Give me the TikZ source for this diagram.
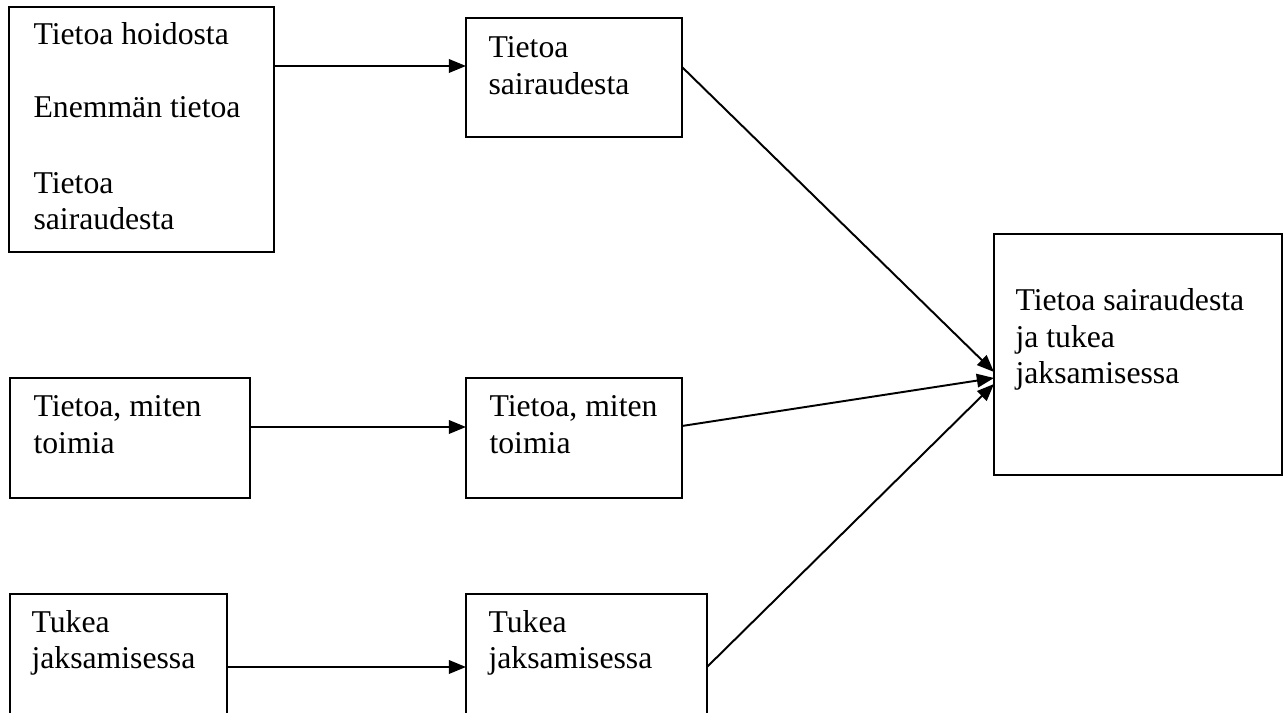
\documentclass[tikz,border=0pt]{standalone}
\usepackage{fontspec}
\setmainfont{Liberation Serif}
\usetikzlibrary{arrows.meta}
\newcommand{\pxl}{0.3846pt}
\tikzset{
  box/.style={draw, line width=0.75pt, anchor=north west, inner sep=0pt, outer sep=0pt},
  lbl/.style={anchor=base west, inner sep=0pt, font=\fontsize{12.2pt}{14pt}\selectfont},
  arr/.style={line width=0.75pt, -{Triangle[length=6.6pt,width=5.2pt]}}
}
\begin{document}
\begin{tikzpicture}[x=0.3846pt, y=-0.3846pt]
\clip (0,0) rectangle (1283,713);
\useasboundingbox (0,0) rectangle (1283,713);
% boxes
\node[box, minimum width=265*\pxl, minimum height=245*\pxl] (A) at (9,7) {};
\node[box, minimum width=216*\pxl, minimum height=119*\pxl] (B) at (466,18) {};
\node[box, minimum width=288*\pxl, minimum height=241*\pxl] (C) at (994,234) {};
\node[box, minimum width=240*\pxl, minimum height=120*\pxl] (D) at (10,378) {};
\node[box, minimum width=216*\pxl, minimum height=120*\pxl] (E) at (466,378) {};
\node[box, minimum width=217*\pxl, minimum height=200*\pxl] (F) at (10,594) {};
\node[box, minimum width=241*\pxl, minimum height=200*\pxl] (G) at (466,594) {};
% texts
\node[lbl] (a1) at (33,45) {Tietoa hoidosta};
\node[lbl] (a2) at (33,118) {Enemmän tietoa};
\node[lbl] (a3) at (33,194) {Tietoa};
\node[lbl] (a4) at (33,230) {sairaudesta};
\node[lbl] (b1) at (488,58) {Tietoa};
\node[lbl] (b2) at (488,95) {sairaudesta};
\node[lbl] (c1) at (1015,311) {Tietoa sairaudesta};
\node[lbl] (c2) at (1015,348) {ja tukea};
\node[lbl] (c3) at (1015,384) {jaksamisessa};
\node[lbl] (d1) at (33,417) {Tietoa, miten};
\node[lbl] (d2) at (33,454) {toimia};
\node[lbl] (e1) at (489,417) {Tietoa, miten};
\node[lbl] (e2) at (489,454) {toimia};
\node[lbl] (f1) at (31,633) {Tukea};
\node[lbl] (f2) at (31,669) {jaksamisessa};
\node[lbl] (g1) at (488,633) {Tukea};
\node[lbl] (g2) at (488,669) {jaksamisessa};
% connectors
\draw[arr] (A.east |- 0,66) -- (B.west |- 0,66);
\draw[arr] (D.east |- 0,427) -- (E.west |- 0,427);
\draw[arr] (F.east |- 0,667) -- (G.west |- 0,667);
\draw[arr] (B.east |- 0,67) -- (C.west |- 0,372);
\draw[arr] (E.east |- 0,426) -- (C.west |- 0,378);
\draw[arr] (G.east |- 0,667) -- (C.west |- 0,384);
\end{tikzpicture}
\end{document}
